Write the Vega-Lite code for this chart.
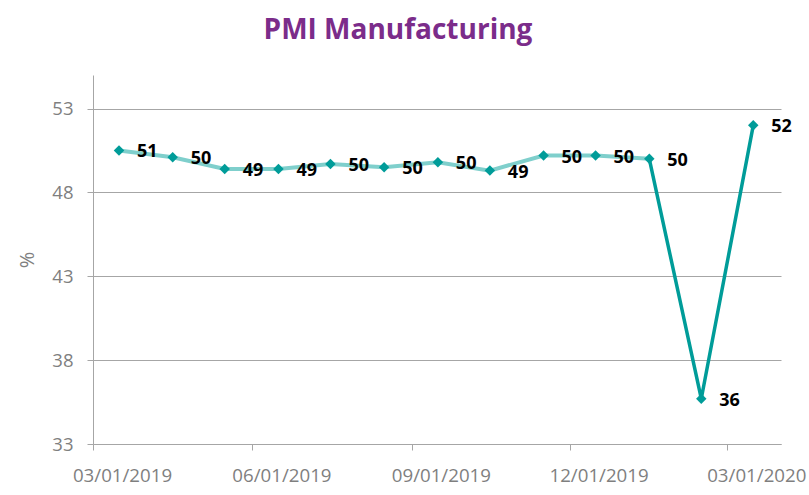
{
  "$schema": "https://vega.github.io/schema/vega-lite/v6.json",
  "width": 688,
  "height": 369,
  "autosize": {"type": "none"},
  "padding": {"left": 93, "top": 75, "right": 28, "bottom": 51},
  "background": "white",
  "title": {
    "text": "PMI Manufacturing",
    "font": "Open Sans",
    "fontSize": 28,
    "fontWeight": "bold",
    "color": "#7B2C8A",
    "anchor": "middle",
    "frame": "group",
    "dx": -39,
    "offset": 30
  },
  "config": {
    "view": {"stroke": null},
    "font": "Open Sans",
    "axisX": {"labelOffset": 29, "labelPadding": 16}
  },
  "data": {
    "values": [
      {"date": "2019-03-16", "value": 50.5},
      {"date": "2019-04-16", "value": 50.1},
      {"date": "2019-05-16", "value": 49.4},
      {"date": "2019-06-16", "value": 49.4},
      {"date": "2019-07-16", "value": 49.7},
      {"date": "2019-08-16", "value": 49.5},
      {"date": "2019-09-16", "value": 49.8},
      {"date": "2019-10-16", "value": 49.3},
      {"date": "2019-11-16", "value": 50.2},
      {"date": "2019-12-16", "value": 50.2},
      {"date": "2020-01-16", "value": 50.0},
      {"date": "2020-02-15", "value": 35.7},
      {"date": "2020-03-16", "value": 52.0}
    ]
  },
  "encoding": {
    "x": {
      "field": "date",
      "type": "temporal",
      "scale": {
        "type": "utc",
        "domain": [
          {"year": 2019, "month": 3, "date": 1, "utc": true},
          {"year": 2020, "month": 4, "date": 1, "utc": true}
        ]
      },
      "axis": {
        "title": null,
        "values": [
          {"year": 2019, "month": 3, "date": 1, "utc": true},
          {"year": 2019, "month": 6, "date": 1, "utc": true},
          {"year": 2019, "month": 9, "date": 1, "utc": true},
          {"year": 2019, "month": 12, "date": 1, "utc": true},
          {"year": 2020, "month": 3, "date": 1, "utc": true}
        ],
        "labelExpr": "utcFormat(datum.value, '%m/%d/%Y')",
        "grid": false,
        "domainColor": "#a6a6a6",
        "tickColor": "#a6a6a6",
        "tickSize": 6,
        "labelFontSize": 18.7,
        "labelColor": "#7f7f7f",
        "labelPadding": 16,
        "labelOffset": 29,
        "labelFlush": false,
        "labelOverlap": false
      }
    },
    "y": {
      "field": "value",
      "type": "quantitative",
      "scale": {"domain": [33, 55], "nice": false, "zero": false},
      "axis": {
        "title": "%",
        "titleColor": "#7f7f7f",
        "titleFontSize": 20,
        "titleFontWeight": "normal",
        "titlePadding": 14,
        "values": [33, 38, 43, 48, 53],
        "gridColor": "#a6a6a6",
        "domainColor": "#a6a6a6",
        "tickColor": "#a6a6a6",
        "tickSize": 6,
        "labelFontSize": 18.5,
        "labelColor": "#7f7f7f",
        "labelPadding": 14
      }
    }
  },
  "layer": [
    {
      "transform": [{"filter": "+datum.date <= utc(2020, 0, 16)"}],
      "mark": {"type": "line", "color": "#7fcfcc", "strokeWidth": 4}
    },
    {
      "transform": [{"filter": "+datum.date >= utc(2020, 0, 16)"}],
      "mark": {"type": "line", "color": "#009c99", "strokeWidth": 3.5}
    },
    {
      "mark": {"type": "point", "shape": "diamond", "filled": true, "color": "#009c99", "size": 110, "opacity": 1}
    },
    {
      "mark": {"type": "text", "align": "left", "baseline": "middle", "dx": 18, "dy": 2, "fontSize": 18, "fontWeight": "bold", "color": "#000000", "font": "Open Sans"},
      "encoding": {"text": {"field": "value", "type": "quantitative", "format": ".0f"}}
    }
  ]
}
